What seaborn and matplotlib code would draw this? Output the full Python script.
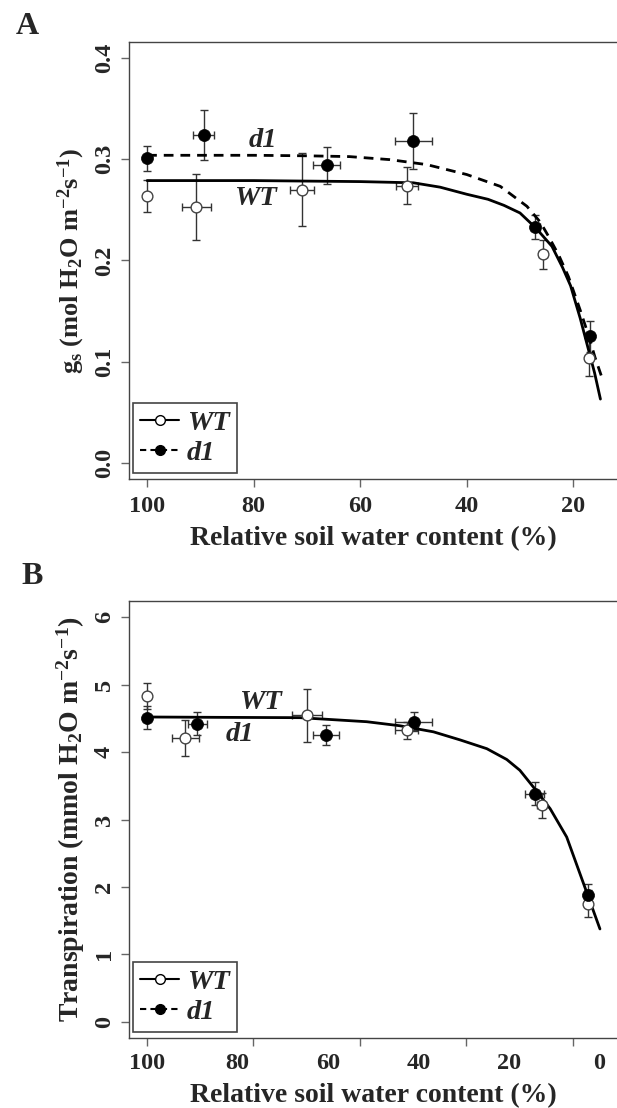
import numpy as np
import pandas as pd
import matplotlib
matplotlib.use("Agg")
import matplotlib.pyplot as plt
import seaborn as sns
from matplotlib.lines import Line2D

sns.set_style("ticks")
plt.rcParams['font.family'] = ['Liberation Serif', 'DejaVu Serif']
plt.rcParams['font.weight'] = 'bold'
plt.rcParams['mathtext.fontset'] = 'custom'
plt.rcParams['mathtext.rm'] = 'Liberation Serif:bold'
plt.rcParams['mathtext.it'] = 'Liberation Serif:bold:italic'
plt.rcParams['mathtext.bf'] = 'Liberation Serif:bold'

# ---------------- Panel A data: stomatal conductance ----------------
a_wt_x = [100, 90.8, 70.9, 51.2, 25.7, 17.1]
a_wt_y = [0.264, 0.253, 0.270, 0.274, 0.206, 0.104]
a_wt_yerr = [0.016, 0.033, 0.036, 0.018, 0.014, 0.018]
a_wt_xerr = [0, 2.7, 2.3, 2.1, 0.8, 0.6]

a_d1_x = [100, 89.4, 66.3, 50.0, 27.1, 16.9]
a_d1_y = [0.301, 0.324, 0.294, 0.318, 0.233, 0.125]
a_d1_yerr = [0.0125, 0.025, 0.018, 0.028, 0.012, 0.015]
a_d1_xerr = [0, 1.9, 2.6, 3.4, 0.8, 0.6]

a_wt_fit_x = [100, 90, 80, 70, 60, 50, 45, 40, 36, 33, 30, 27, 24, 22, 20.5, 18.7, 17.4, 16, 14.9]
a_wt_fit_y = [0.279, 0.279, 0.279, 0.2785, 0.278, 0.2768, 0.2725, 0.2655, 0.2605, 0.2545,
              0.247, 0.232, 0.214, 0.193, 0.175, 0.143, 0.117, 0.089, 0.063]
a_d1_fit_x = [100, 90, 80, 70, 62, 54.4, 47.5, 40, 33.7, 28.7, 26.2, 24.6, 22.7, 20.9, 18.7, 17.2, 15.9, 14.6]
a_d1_fit_y = [0.304, 0.304, 0.304, 0.3035, 0.3027, 0.2997, 0.2948, 0.285, 0.2733, 0.2536,
              0.238, 0.2235, 0.205, 0.184, 0.151, 0.127, 0.104, 0.084]

# ---------------- Panel B data: transpiration ----------------
b_wt_x = [100, 91.5, 64.6, 42.6, 12.8, 2.5]
b_wt_y = [4.83, 4.21, 4.545, 4.32, 3.21, 1.75]
b_wt_yerr = [0.19, 0.27, 0.39, 0.12, 0.19, 0.20]
b_wt_xerr = [0, 3.0, 3.3, 2.6, 1.0, 0.6]

b_d1_x = [100, 88.9, 60.5, 41.1, 14.3, 2.5]
b_d1_y = [4.51, 4.42, 4.25, 4.45, 3.38, 1.88]
b_d1_yerr = [0.17, 0.17, 0.15, 0.14, 0.17, 0.17]
b_d1_xerr = [0, 2.1, 2.9, 4.0, 2.1, 0.6]

b_fit_x = [100, 85, 66.2, 58.8, 51.45, 44.1, 36.7, 30.8, 24.9, 20.5, 17.6, 14.6, 10.9, 7.25, 3.58, -0.1]
b_fit_y = [4.52, 4.515, 4.51, 4.48, 4.45, 4.39, 4.30, 4.18, 4.05, 3.89, 3.73, 3.48, 3.16, 2.74, 2.06, 1.377]

a_xticks = [100, 80, 60, 40, 20]
a_yticks = [0.0, 0.1, 0.2, 0.3, 0.4]
b_xticklabels = [100, 80, 60, 40, 20, 0]
b_yticks = [0, 1, 2, 3, 4, 5, 6]

labels = ["WT", "d1"]

W, H = 617, 1108
fig = plt.figure(figsize=(W / 100, H / 100), dpi=100)

def px_axes(left, top, right, bottom):
    return fig.add_axes([left / W, 1 - bottom / H, (right - left) / W, (bottom - top) / H])

axA = px_axes(129, 42, 618, 479)
axB = px_axes(129, 601, 618, 1038)

TICK_FS = 17.5
XLAB_FS = 20
ANN_FS = 20.5
EC = '#333333'

def draw_series(ax, x, y, xerr, yerr, filled):
    ax.errorbar(x, y, xerr=xerr, yerr=yerr, fmt='none', ecolor=EC, elinewidth=1.0,
                capsize=3, capthick=1.0, zorder=2)
    if filled:
        sns.scatterplot(x=x, y=y, ax=ax, marker='o', s=75, color='black',
                        edgecolor='black', linewidth=0.5, zorder=4)
    else:
        sns.scatterplot(x=x, y=y, ax=ax, marker='o', s=60, facecolor='white',
                        edgecolor='#444444', linewidth=1.0, zorder=4)

def style_axes(ax):
    for s in ax.spines.values():
        s.set_color('#444444')
        s.set_linewidth(1.0)
    ax.tick_params(axis='both', which='major', direction='out', length=6, width=1,
                   color='#666666', labelsize=TICK_FS)
    for lab in ax.get_yticklabels():
        lab.set_rotation(90)
        lab.set_va('center')

def add_legend(ax):
    handles = [
        Line2D([0], [0], color='black', lw=1.5, marker='o', markerfacecolor='white',
               markeredgecolor='black', markersize=7),
        Line2D([0], [0], color='black', lw=1.5, linestyle=(0, (3, 2)), marker='o',
               markerfacecolor='black', markeredgecolor='black', markersize=7),
    ]
    leg = ax.legend(handles, labels, loc='lower left', bbox_to_anchor=(0.008, 0.014),
                    borderaxespad=0, fancybox=False, framealpha=1, edgecolor='#444444',
                    prop={'family': 'Liberation Serif', 'weight': 'bold', 'style': 'italic',
                          'size': 20.5},
                    handlelength=1.37, handletextpad=0.28, labelspacing=0.15,
                    borderpad=0.25)
    leg.get_frame().set_linewidth(1.2)

# ---------------- Panel A ----------------
sns.lineplot(x=a_wt_fit_x, y=a_wt_fit_y, ax=axA, color='black', lw=2.0, sort=False,
             estimator=None, zorder=3)
sns.lineplot(x=a_d1_fit_x, y=a_d1_fit_y, ax=axA, color='black', lw=2.0, sort=False,
             estimator=None, linestyle=(0, (3.5, 2.5)), zorder=3)
draw_series(axA, a_wt_x, a_wt_y, a_wt_xerr, a_wt_yerr, filled=False)
draw_series(axA, a_d1_x, a_d1_y, a_d1_xerr, a_d1_yerr, filled=True)
axA.set_xlim(103.4, 11.6)
axA.set_ylim(-0.016, 0.416)
axA.set_xticks(a_xticks)
axA.set_xticklabels([str(v) for v in a_xticks])
axA.set_yticks(a_yticks)
axA.set_yticklabels([f"{v:.1f}" for v in a_yticks])
style_axes(axA)
axA.tick_params(axis='x', pad=6)
axA.tick_params(axis='y', pad=4)
axA.set_xlabel("Relative soil water content (%)", fontsize=XLAB_FS, fontweight='bold', labelpad=7)
axA.set_ylabel(r"g$_\mathrm{s}$ (mol H$_2$O m$^{-2}$s$^{-1}$)", fontsize=19,
               fontweight='bold', labelpad=5)
axA.text(78.2, 0.3188, "d1", fontsize=ANN_FS, fontweight='bold', style='italic',
         ha='center', va='center')
axA.text(79.7, 0.2615, "WT", fontsize=ANN_FS, fontweight='bold', style='italic',
         ha='center', va='center')
add_legend(axA)
fig.text(27 / W, 1 - 27 / H, "A", fontsize=23, fontweight='bold', ha='center', va='center')

# ---------------- Panel B ----------------
sns.lineplot(x=b_fit_x, y=b_fit_y, ax=axB, color='black', lw=2.0, sort=False,
             estimator=None, zorder=3)
draw_series(axB, b_wt_x, b_wt_y, b_wt_xerr, b_wt_yerr, filled=False)
draw_series(axB, b_d1_x, b_d1_y, b_d1_xerr, b_d1_yerr, filled=True)
axB.set_xlim(103.98, -4.09)
axB.set_ylim(-0.24, 6.24)
# tick marks sit on panel A's scale (100..20 of a 15-100 range), labels on 0-100 scale
tick_marks = [(v - 15) / 0.85 for v in a_xticks]
axB.xaxis.remove_overlapping_locs = False
axB.set_xticks(tick_marks)
axB.set_xticklabels([''] * len(tick_marks))
axB.set_xticks(b_xticklabels, minor=True)
axB.set_xticklabels([str(v) for v in b_xticklabels], minor=True)
axB.set_yticks(b_yticks)
axB.set_yticklabels([str(v) for v in b_yticks])
style_axes(axB)
axB.tick_params(axis='x', which='minor', length=0, pad=11, labelsize=TICK_FS)
axB.tick_params(axis='y', pad=4)
axB.set_xlabel("Relative soil water content (%)", fontsize=XLAB_FS, fontweight='bold', labelpad=6)
axB.set_ylabel(r"Transpiration (mmol H$_2$O m$^{-2}$s$^{-1}$)", fontsize=20,
               fontweight='bold', labelpad=5)
axB.text(75.0, 4.74, "WT", fontsize=ANN_FS, fontweight='bold', style='italic',
         ha='center', va='center')
axB.text(79.4, 4.26, "d1", fontsize=ANN_FS, fontweight='bold', style='italic',
         ha='center', va='center')
add_legend(axB)
fig.text(32 / W, 1 - 576 / H, "B", fontsize=23, fontweight='bold', ha='center', va='center')

fig.savefig("out.png", dpi=100)
